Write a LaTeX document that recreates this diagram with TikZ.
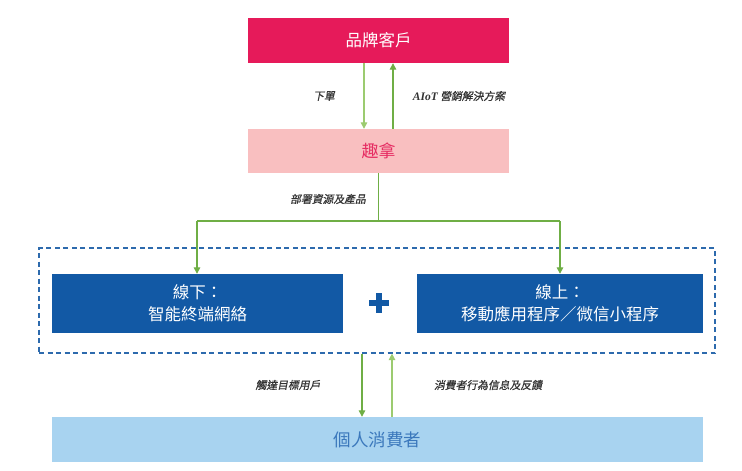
\documentclass[tikz,border=0pt]{standalone}
\usepackage{fontspec}
\setmainfont{Liberation Serif}
\newfontfamily\cjk{Noto Sans CJK TC}
\newfontfamily\cjklab[FakeSlant=0.2,FakeBold=0.6]{Noto Sans CJK TC}
\usetikzlibrary{arrows.meta}
\definecolor{brandred}{HTML}{E61A5A}
\definecolor{qunapink}{HTML}{F9BFC0}
\definecolor{qunatext}{HTML}{E62C62}
\definecolor{deepblue}{HTML}{1259A5}
\definecolor{lightblue}{HTML}{A8D3F0}
\definecolor{consumertext}{HTML}{3B78BC}
\definecolor{greendark}{HTML}{6FAE45}
\definecolor{greenlight}{HTML}{9CCB70}
\definecolor{dashblue}{HTML}{2D6AAD}
\definecolor{labelgray}{HTML}{333333}
\begin{document}
\begin{tikzpicture}[x=1pt,y=-1pt,
  box/.style={rectangle, inner sep=0pt, align=center},
  lab/.style={text=labelgray, font=\cjklab\fontsize{10.8}{12}\selectfont, inner sep=0pt},
  arr/.style={line width=1.3pt, -{Triangle[width=6.5pt,length=6.5pt]}},
  conn/.style={line width=1.3pt}
]
\useasboundingbox (0,0) rectangle (742,471);
\fill[white] (0,0) rectangle (742,471);

\node[box, fill=brandred, minimum width=261pt, minimum height=45pt, text=white,
  font=\cjk\fontsize{16.5}{19}\selectfont] (brand) at (378.5,40.5) {品牌客戶};
\node[box, fill=qunapink, minimum width=261pt, minimum height=44pt, text=qunatext,
  font=\cjk\fontsize{17}{19}\selectfont] (quna) at (378.5,151) {趣拿};

\node[box, draw=dashblue, dash pattern=on 5pt off 3.5pt, line width=1.2pt,
  minimum width=676pt, minimum height=105pt] (grp) at (377,300.5) {};

\node[box, fill=deepblue, minimum width=291pt, minimum height=59pt, text=white,
  font=\cjk\fontsize{16.5}{22}\selectfont] (off) at (197.5,303.5) {線下：\\智能終端網絡};
\node[box, fill=deepblue, minimum width=286pt, minimum height=59pt, text=white,
  font=\cjk\fontsize{16.5}{22}\selectfont] (on) at (560,303.5) {線上：\\移動應用程序／微信小程序};

\draw[deepblue, line width=6pt] (369,303) -- (389,303) (379,293) -- (379,313);

\node[box, fill=lightblue, minimum width=651pt, minimum height=45pt, text=consumertext,
  font=\cjk\fontsize{17.5}{20}\selectfont] (cons) at (377.5,439.5) {個人消費者};

% top arrows
\coordinate (c1) at (364,0);
\coordinate (c2) at (393,0);
\draw[arr, greenlight] (c1 |- brand.south) -- (c1 |- quna.north);
\draw[arr, greendark] (c2 |- quna.north) -- (c2 |- brand.south);
\node[lab] (l1) at (324,96) {下單};
\node[lab] (l2) at (459,96) {{\rmfamily\fontsize{11.5}{12}\selectfont\bfseries\itshape AIoT} 營銷解決方案};

% distribution
\coordinate (split) at (378.5,221);
\coordinate (sl) at (197,221);
\coordinate (sr) at (560,221);
\draw[conn, greendark] (quna.south) -- (split);
\draw[conn, greendark] (sl) -- (sr);
\draw[arr, greendark] (sl) -- (sl |- off.north);
\draw[arr, greendark] (sr) -- (sr |- on.north);
\node[lab] (l3) at (328,199) {部署資源及產品};

% bottom arrows
\coordinate (c3) at (362,0);
\coordinate (c4) at (392,0);
\draw[arr, greendark] (c3 |- grp.south) -- (c3 |- cons.north);
\draw[arr, greenlight] (c4 |- cons.north) -- (c4 |- grp.south);
\node[lab] (l4) at (288,385) {觸達目標用戶};
\node[lab] (l5) at (488,385) {消費者行為信息及反饋};
\end{tikzpicture}
\end{document}
